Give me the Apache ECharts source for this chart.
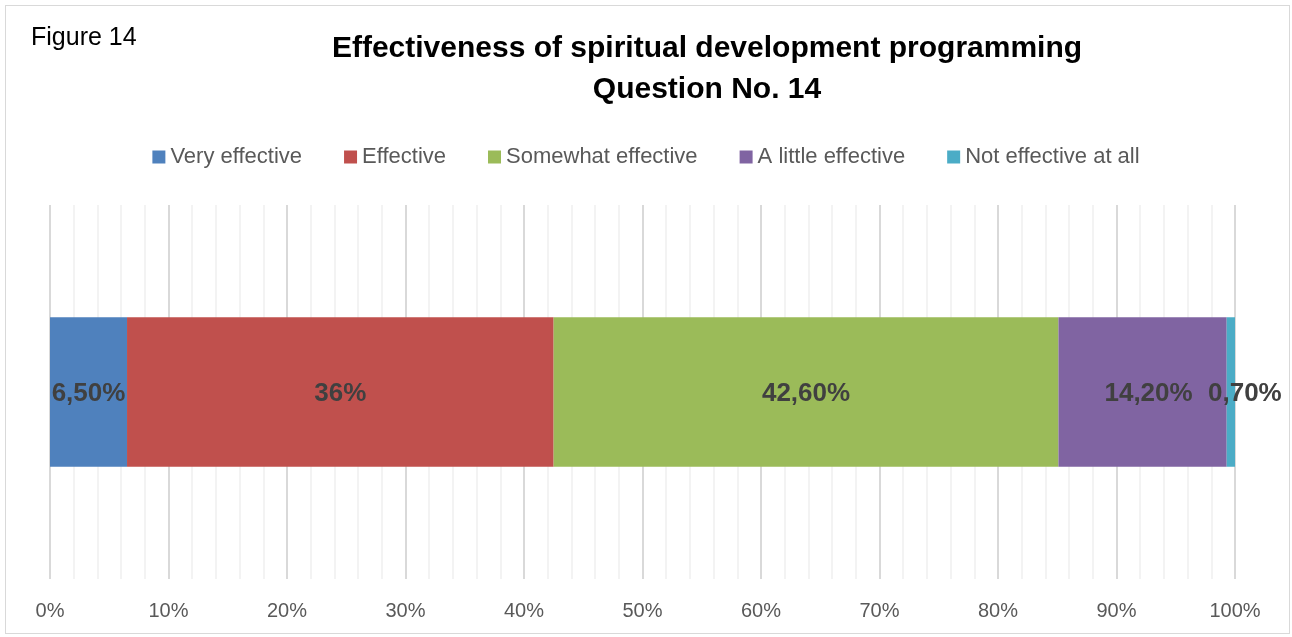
<!DOCTYPE html>
<html>
<head>
<meta charset="utf-8">
<script src="https://cdn.jsdelivr.net/npm/echarts@6/dist/echarts.min.js"></script>
<style>
    html, body { margin: 0; padding: 0; background: #fff; }
    #frame { position: absolute; left: 5px; top: 5px; width: 1283px; height: 627px; border: 1px solid #d9d9d9; }
    #chartsDOM { position: absolute; left: 0; top: 0; width: 1292px; height: 637px; }
</style>
</head>
<body>
<div id="frame"></div>
<div id="chartsDOM"></div>
<script>
// 数据
var categories = ['Q14'];
var seriesNames = ['Very effective', 'Effective', 'Somewhat effective', 'A little effective', 'Not effective at all'];
var seriesValues = [6.5, 36, 42.6, 14.2, 0.7];
var valueLabels = ['6,50%', '36%', '42,60%', '14,20%', '0,70%'];
var tickLabels = ['0%', '10%', '20%', '30%', '40%', '50%', '60%', '70%', '80%', '90%', '100%'];
var colors = ['#4f81bd', '#c0504d', '#9bbb59', '#8064a2', '#4bacc6'];

var font = 'Liberation Sans';
var myChart = echarts.init(document.getElementById('chartsDOM'));

var series = seriesNames.map(function (name, i) {
    return {
        name: name,
        type: 'bar',
        stack: 'total',
        barWidth: '40%',
        data: [seriesValues[i]],
        itemStyle: { color: colors[i] },
        label: {
            show: true,
            position: 'inside',
            // 最后一段太窄，标签往右挪
            offset: i === 4 ? [14, 2] : (i === 3 ? [6, 2] : [0, 2]),
            formatter: function () { return valueLabels[i]; },
            color: '#404040',
            fontFamily: font,
            fontWeight: 'bold',
            fontSize: 26
        }
    };
});

var option = {
    animation: false,
    title: [
        {
            text: 'Effectiveness of spiritual development programming\nQuestion No. 14',
            left: 702,
            textAlign: 'center',
            top: 23,
            textStyle: { color: '#000', fontSize: 30, fontWeight: 'bold', fontFamily: font, lineHeight: 41 }
        },
        {
            text: 'Figure 14',
            left: 26,
            top: 21,
            textStyle: { color: '#000', fontSize: 25, fontWeight: 'normal', fontFamily: font }
        }
    ],
    legend: {
        top: 141,
        left: 'center',
        itemWidth: 13,
        itemHeight: 13,
        itemGap: 42,
        icon: 'rect',
        textStyle: { color: '#595959', fontSize: 22, fontFamily: font },
        data: seriesNames
    },
    grid: { left: 50, right: 57, top: 205, bottom: 58, containLabel: false },
    xAxis: {
        type: 'value',
        min: 0,
        max: 100,
        interval: 10,
        axisLine: { show: false },
        axisTick: { show: false },
        axisLabel: {
            color: '#595959',
            fontSize: 20,
            fontFamily: font,
            margin: 22,
            formatter: function (v) { return tickLabels[Math.round(v / 10)]; }
        },
        splitLine: { show: true, lineStyle: { color: '#d9d9d9', width: 2 } },
        minorTick: { show: false, splitNumber: 5 },
        minorSplitLine: { show: true, lineStyle: { color: '#f3f3f3', width: 2 } }
    },
    yAxis: {
        type: 'category',
        data: categories,
        axisLine: { show: false },
        axisTick: { show: false },
        axisLabel: { show: false }
    },
    series: series
};

myChart.setOption(option);
window.addEventListener('resize', function () { myChart.resize(); });
</script>
</body>
</html>
